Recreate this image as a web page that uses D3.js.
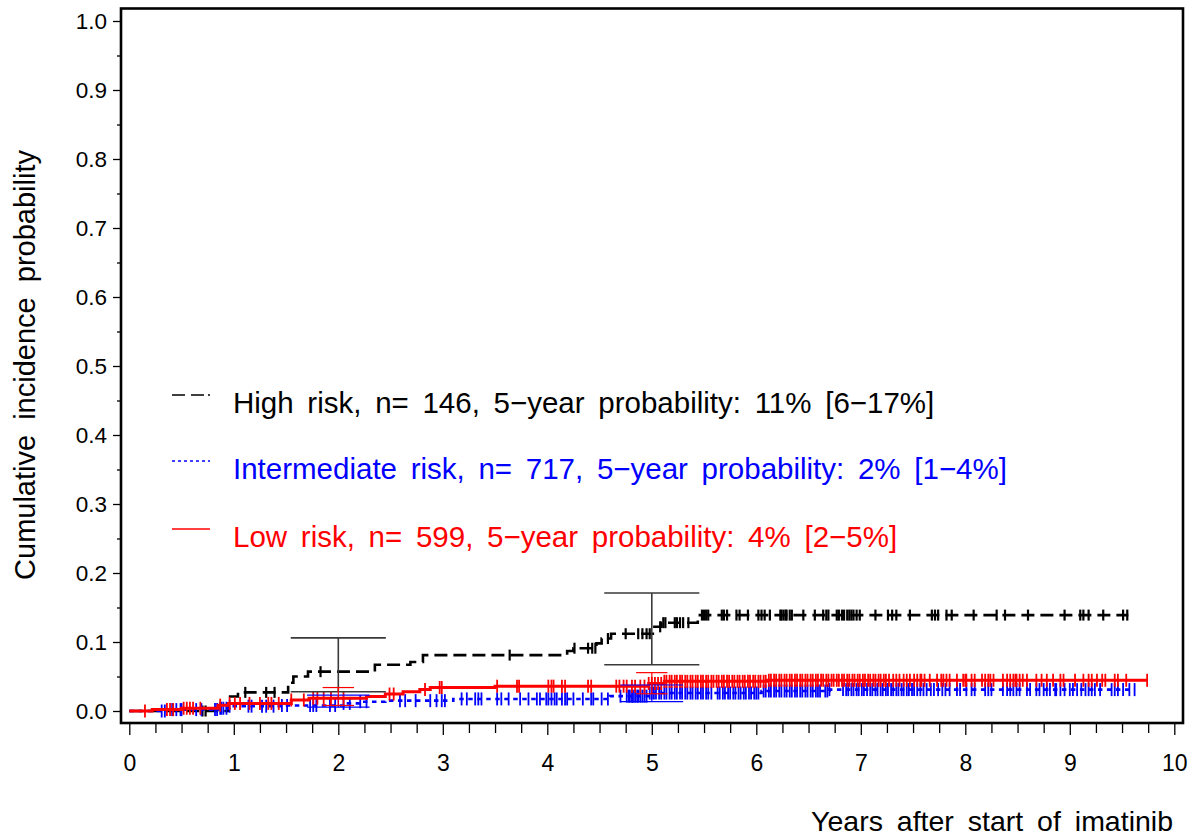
<!DOCTYPE html>
<html><head><meta charset="utf-8">
<script src="https://cdn.jsdelivr.net/npm/d3@7/dist/d3.min.js"></script>
<style>
body{margin:0;background:#fff}
text{font-family:"Liberation Sans",Arial,Helvetica,sans-serif}
</style>
</head><body>
<svg id="chart" width="1195" height="837"></svg>
<script>
// ---------- data ----------
const xTickValues = [0,1,2,3,4,5,6,7,8,9,10];
const yTickValues = [0,0.1,0.2,0.3,0.4,0.5,0.6,0.7,0.8,0.9,1.0];
const xTitle = "Years after start of imatinib";
const yTitle = "Cumulative incidence probability";
const groupNames = ["High risk","Intermediate risk","Low risk"];
const legendLabels = [
  "High risk, n= 146, 5\u2212year probability: 11% [6\u221217%]",
  "Intermediate risk, n= 717, 5\u2212year probability: 2% [1\u22124%]",
  "Low risk, n= 599, 5\u2212year probability: 4% [2\u22125%]"
];

// High risk step function
const highTimes = [0,0.95,1.04,1.52,1.57,1.71,2.35,2.69,2.81,4.19,4.25,4.47,4.52,4.61,5.01,5.09,5.44,5.46];
const highProb  = [0,0.021,0.027,0.041,0.050,0.057,0.067,0.071,0.081,0.087,0.091,0.098,0.105,0.112,0.122,0.128,0.134,0.139];
const highEnd = 9.56;
const highCensor = [0.70,0.73,1.11,1.31,1.39,1.83,3.64,4.26,4.39,4.43,4.46,4.58,4.75,4.87,4.91,4.95,4.98,5.08,5.11,5.13,5.22,5.24,5.27,5.30,5.35,5.48,5.50,5.52,5.54,5.67,5.69,5.72,5.81,5.84,5.92,6.02,6.05,6.08,6.13,6.23,6.24,6.26,6.28,6.29,6.32,6.34,6.45,6.56,6.64,6.67,6.69,6.77,6.79,6.82,6.84,6.87,6.89,6.91,6.93,6.96,6.99,7.14,7.26,7.30,7.34,7.47,7.68,7.71,7.74,7.82,7.87,8.08,8.30,8.38,8.60,8.95,9.10,9.13,9.18,9.32,9.51,9.55];

// Intermediate risk step function
const interTimes = [0,0.35,0.85,0.95,1.45,2.05,2.20,2.45,3.10,4.60,4.97,6.05,6.70];
const interProb  = [0,0.002,0.004,0.007,0.008,0.011,0.0135,0.015,0.0175,0.0215,0.026,0.029,0.031];
const interEnd = 9.62;
const interCensor = [0.31,0.34,0.41,0.45,0.49,0.50,0.64,0.69,0.82,0.84,0.87,0.88,0.90,0.93,0.96,1.14,1.17,1.27,1.31,1.38,1.46,1.51,1.73,1.76,1.79,1.92,1.97,2.05,2.11,2.21,2.27,2.59,2.64,2.74,2.88,2.94,2.99,3.02,3.18,3.23,3.31,3.34,3.37,3.52,3.56,3.63,3.74,3.82,3.90,3.93,3.99,4.01,4.04,4.07,4.09,4.14,4.17,4.19,4.25,4.34,4.42,4.44,4.52,4.58,4.70,4.76,4.78,4.79,4.81,4.82,4.84,4.86,4.87,4.89,4.91,4.93,4.95,4.98,5.00,
  5.02,5.04,5.07,5.09,5.12,5.14,5.17,5.19,5.22,5.24,5.27,5.29,5.32,5.34,5.37,5.39,5.42,5.44,5.47,5.49,5.52,5.54,5.57,5.63,5.65,5.68,5.70,5.73,5.75,5.78,5.80,5.83,5.85,5.88,5.90,5.93,5.95,5.98,6.00,6.02,6.07,6.09,6.12,6.14,6.17,6.19,6.22,6.24,6.27,6.29,6.32,6.34,6.37,6.39,6.42,6.44,6.47,6.49,6.52,6.54,6.57,6.59,6.61,
  6.66,6.68,6.70,6.83,6.86,6.88,6.91,6.93,6.96,6.98,7.01,7.03,7.06,7.09,7.11,7.14,7.16,7.19,7.21,7.24,7.26,7.29,7.31,7.34,7.36,7.39,7.41,7.44,7.46,7.49,7.51,7.54,7.57,7.60,7.63,7.67,7.70,7.74,7.78,7.81,7.85,
  7.92,7.95,8.01,8.06,8.09,8.19,8.22,8.25,8.36,8.40,8.43,8.46,8.49,8.52,8.59,8.62,8.68,8.71,8.75,8.78,8.81,8.86,8.87,8.91,8.95,9.00,9.03,9.07,9.11,9.15,9.18,9.21,9.24,9.29,9.40,9.43,9.46,9.51,9.57,9.62];

// Low risk step function
const lowTimes = [0,0.22,0.50,0.85,0.95,1.55,1.72,2.27,2.45,2.62,2.78,2.88,3.50,4.97,5.12,6.10];
const lowProb  = [0,0.002,0.004,0.0085,0.011,0.016,0.0185,0.021,0.0246,0.028,0.031,0.034,0.036,0.040,0.043,0.0445];
const lowEnd = 9.74;
const lowCensor = [0.15,0.36,0.39,0.42,0.52,0.55,0.58,0.61,0.68,0.87,0.96,1.01,1.06,1.15,1.25,1.33,1.36,1.43,1.55,1.67,1.76,1.80,1.86,1.93,2.05,2.49,2.53,2.83,2.97,2.99,3.52,3.71,3.73,4.01,4.04,4.06,4.14,4.17,4.39,4.42,4.66,4.69,4.73,4.76,4.81,4.84,4.89,4.93,4.97,5.00,5.03,5.06,
  5.09,5.12,5.14,5.17,5.19,5.22,5.24,5.27,5.29,5.32,5.34,5.37,5.39,5.42,5.44,5.47,5.49,5.52,5.54,5.57,5.59,5.62,5.64,5.67,5.69,5.72,5.74,5.77,5.79,5.82,5.84,5.87,5.89,5.92,5.94,5.97,5.99,6.02,6.04,6.07,6.09,6.12,6.14,6.17,6.19,6.22,6.24,6.27,6.29,6.32,6.34,6.37,6.39,6.42,6.44,6.47,6.49,6.52,6.54,6.57,6.59,6.62,6.64,6.67,6.69,6.72,6.74,6.77,6.79,6.82,6.84,6.87,6.89,6.92,6.94,6.97,6.99,7.02,7.04,7.07,7.09,7.12,7.14,7.17,7.19,7.22,7.24,7.27,7.31,7.34,7.37,7.41,7.44,7.47,7.51,7.54,7.57,
  7.58,7.61,7.66,7.73,7.77,7.79,7.82,7.85,7.92,7.98,8.00,8.01,8.06,8.09,8.16,8.19,8.22,8.24,8.27,8.36,8.40,8.43,8.46,8.48,8.49,8.52,8.55,8.59,8.68,8.73,8.78,8.84,8.91,8.94,9.05,9.13,9.18,9.21,9.26,9.31,9.34,9.43,9.46,9.54,9.74];

// confidence intervals at 2 and 5 years
const ciTimes = [2,5];
const highLo = [0.028,0.067], highHi = [0.106,0.171];
const interLo = [0.0055,0.0135], interHi = [0.023,0.0377];
const lowLo = [0.008,0.025], lowHi = [0.034,0.0556];
const ciHalfWidth = [0.455,0.30,0.15]; // high, intermediate, low (years)

// ---------- drawing ----------
const svg = d3.select("#chart");
const x = d3.scaleLinear().domain([0,10]).range([129.3,1174.3]);
const y = d3.scaleLinear().domain([0,1]).range([711,21]);
const frame = {left:121, right:1183, top:8.5, bottom:723};

const series = [
  {name:groupNames[0], t:highTimes, p:highProb, end:highEnd, cens:highCensor, lo:highLo, hi:highHi, hw:ciHalfWidth[0],
   color:"#000000", dash:"13,6", width:2.6, ciColor:"#3a3a3a", ciWidth:1.6, censH:5.5, censW:2.2},
  {name:groupNames[1], t:interTimes, p:interProb, end:interEnd, cens:interCensor, lo:interLo, hi:interHi, hw:ciHalfWidth[1],
   color:"#0000ff", dash:"4.5,4.5", width:2.6, ciColor:"#0000ff", ciWidth:1.2, censH:6.5, censW:1.8},
  {name:groupNames[2], t:lowTimes, p:lowProb, end:lowEnd, cens:lowCensor, lo:lowLo, hi:lowHi, hw:ciHalfWidth[2],
   color:"#ff0000", dash:null, width:3, ciColor:"#ff0000", ciWidth:1.2, censH:6.5, censW:1.8}
];

function stepValue(s, t){
  const i = d3.bisectRight(s.t, t) - 1;
  return s.p[Math.max(0,i)];
}

const line = d3.line().x(d=>x(d[0])).y(d=>y(d[1])).curve(d3.curveStepAfter);

series.forEach(s=>{
  const pts = s.t.map((t,i)=>[t,s.p[i]]);
  pts.push([s.end, s.p[s.p.length-1]]);
  svg.append("path").attr("d", line(pts))
    .attr("fill","none").attr("stroke",s.color).attr("stroke-width",s.width)
    .attr("stroke-dasharray", s.dash);
  svg.append("g").selectAll("line").data(s.cens).join("line")
    .attr("x1",d=>x(d)).attr("x2",d=>x(d))
    .attr("y1",d=>y(stepValue(s,d))-s.censH).attr("y2",d=>y(stepValue(s,d))+s.censH)
    .attr("stroke",s.color).attr("stroke-width",s.censW);
});

// confidence interval bars
series.forEach(s=>{
  const g = svg.append("g").attr("stroke",s.ciColor).attr("stroke-width",s.ciWidth).attr("fill","none");
  ciTimes.forEach((t,i)=>{
    g.append("line").attr("x1",x(t)).attr("x2",x(t)).attr("y1",y(s.lo[i])).attr("y2",y(s.hi[i]));
    g.append("line").attr("x1",x(t-s.hw)).attr("x2",x(t+s.hw)).attr("y1",y(s.lo[i])).attr("y2",y(s.lo[i]));
    g.append("line").attr("x1",x(t-s.hw)).attr("x2",x(t+s.hw)).attr("y1",y(s.hi[i])).attr("y2",y(s.hi[i]));
  });
});

// frame
svg.append("rect").attr("x",frame.left).attr("y",frame.top)
  .attr("width",frame.right-frame.left).attr("height",frame.bottom-frame.top)
  .attr("fill","none").attr("stroke","#000").attr("stroke-width",2.6);

// x axis
const xMinor = d3.range(0,10.001,0.25).filter(v=>Math.abs(v-Math.round(v))>1e-6);
const xAxis = svg.append("g").attr("transform",`translate(0,${frame.bottom})`)
  .call(d3.axisBottom(x).tickValues(xTickValues).tickSize(12).tickPadding(20).tickFormat(d3.format("d")));
xAxis.select(".domain").remove();
xAxis.selectAll("line").attr("stroke","#000").attr("stroke-width",1.3);
xAxis.selectAll("text").attr("font-size",23).attr("fill","#000")
  .style("font-family",'"Liberation Sans",Arial,sans-serif');
const xAxisMinor = svg.append("g").attr("transform",`translate(0,${frame.bottom})`)
  .call(d3.axisBottom(x).tickValues(xMinor).tickSize(10).tickFormat(""));
xAxisMinor.select(".domain").remove();
xAxisMinor.selectAll("line").attr("stroke","#000").attr("stroke-width",1.3);

// y axis
const yMinor = d3.range(0.05,1,0.1);
const yAxis = svg.append("g").attr("transform",`translate(${frame.left},0)`)
  .call(d3.axisLeft(y).tickValues(yTickValues).tickSize(8).tickPadding(6).tickFormat(d3.format(".1f")));
yAxis.select(".domain").remove();
yAxis.selectAll("line").attr("stroke","#000").attr("stroke-width",1.3);
yAxis.selectAll("text").attr("font-size",22.5).attr("fill","#000")
  .style("font-family",'"Liberation Sans",Arial,sans-serif');
const yAxisMinor = svg.append("g").attr("transform",`translate(${frame.left},0)`)
  .call(d3.axisLeft(y).tickValues(yMinor).tickSize(4).tickFormat(""));
yAxisMinor.select(".domain").remove();
yAxisMinor.selectAll("line").attr("stroke","#000").attr("stroke-width",1.3);

// axis titles
svg.append("text").attr("x",1173).attr("y",831).attr("text-anchor","end")
  .attr("font-size",28.5).attr("word-spacing",6).attr("fill","#000").text(xTitle);
svg.append("text").attr("transform","translate(35,365) rotate(-90)").attr("text-anchor","middle")
  .attr("font-size",29).attr("word-spacing",7).attr("fill","#000").text(yTitle);

// legend
const legendY = [413,479,547];
series.forEach((s,i)=>{
  svg.append("line").attr("x1",172).attr("x2",210).attr("y1",legendY[i]-18).attr("y2",legendY[i]-18)
    .attr("stroke",s.color).attr("stroke-width",1.6).attr("stroke-dasharray", i===0?"13,6,13,4,2,100":(i===1?"3,3":null));
  svg.append("text").attr("x",233).attr("y",legendY[i]).attr("font-size",29.5).attr("word-spacing",5.5)
    .attr("fill",s.color).text(legendLabels[i]);
});
</script>
</body></html>
